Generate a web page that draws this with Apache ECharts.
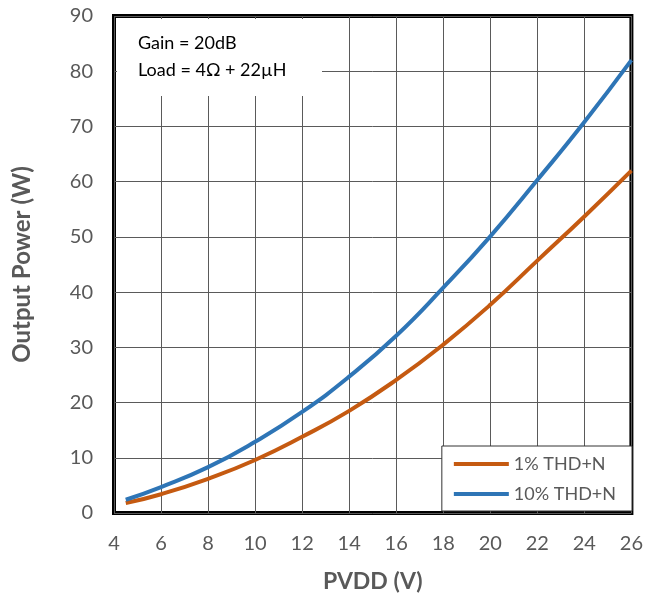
<!DOCTYPE html>
<html>
<head>
<meta charset="utf-8">
<script src="https://cdn.jsdelivr.net/npm/echarts@6/dist/echarts.min.js"></script>
<style>
    html, body { margin: 0; padding: 0; background: #fff; }
    #chart { width: 646px; height: 599px; }
</style>
</head>
<body>
<div id="chart"></div>
<script>
// supply voltage (V)
var pvdd = [4.5, 6, 8, 10, 12, 14, 16, 18, 20, 22, 24, 26];
// output power (W) at each distortion level
var thd1 = [1.8, 3.4, 6.2, 9.6, 13.8, 18.5, 24.1, 30.5, 37.7, 45.7, 53.7, 62];
var thd10 = [2.4, 4.7, 8.3, 12.9, 18.3, 24.7, 32.1, 40.8, 50.1, 60.3, 70.8, 82];
var seriesNames = ["1% THD+N", "10% THD+N"];
var noteLines = ["Gain = 20dB", "Load = 4Ω + 22µH"];

function pairs(xs, ys) {
    return xs.map(function (x, i) { return [x, ys[i]]; });
}

var font = "Lato, 'Open Sans', sans-serif";
var myChart = echarts.init(document.getElementById("chart"));

var option = {
    animation: false,
    textStyle: { fontFamily: font },
    grid: {
        left: 114,
        top: 16,
        right: 13,
        bottom: 86,
        show: true,
        borderColor: "#000",
        borderWidth: 4,
        backgroundColor: "#fff"
    },
    xAxis: {
        type: "value",
        min: 4,
        max: 26,
        interval: 2,
        name: "PVDD (V)",
        nameLocation: "middle",
        nameGap: 57,
        nameTextStyle: { fontSize: 23, fontWeight: "bold", color: "#595959", fontFamily: font },
        axisLine: { show: false },
        axisTick: { show: false },
        axisLabel: { fontSize: 20, color: "#595959", margin: 21, fontFamily: font },
        splitLine: { show: true, lineStyle: { color: "#5a5a5a", width: 1 } }
    },
    yAxis: {
        type: "value",
        min: 0,
        max: 90,
        interval: 10,
        name: "Output Power (W)",
        nameLocation: "middle",
        nameGap: 80,
        nameTextStyle: { fontSize: 24, fontWeight: "bold", color: "#595959", fontFamily: font },
        axisLine: { show: false },
        axisTick: { show: false },
        axisLabel: { fontSize: 20, color: "#595959", margin: 21, fontFamily: font },
        splitLine: { show: true, lineStyle: { color: "#5a5a5a", width: 1 } }
    },
    legend: {
        orient: "vertical",
        right: 14,
        bottom: 88,
        backgroundColor: "#fff",
        borderColor: "#333",
        borderWidth: 1,
        padding: [9, 16, 8, 12],
        itemGap: 12,
        itemWidth: 55,
        itemHeight: 4,
        icon: "rect",
        textStyle: { fontSize: 18, color: "#595959", fontFamily: font },
        data: seriesNames
    },
    graphic: [
        {
            type: "rect",
            z: 1,
            shape: { x: 117, y: 19, width: 205, height: 77 },
            style: { fill: "#fff" }
        },
        {
            type: "text",
            z: 2,
            left: 138,
            top: 34,
            style: { text: noteLines[0], fontSize: 18, fill: "#000", fontFamily: font }
        },
        {
            type: "text",
            z: 2,
            left: 138,
            top: 61,
            style: { text: noteLines[1], fontSize: 18, fill: "#000", fontFamily: font }
        }
    ],
    series: [
        {
            name: seriesNames[0],
            type: "line",
            smooth: true,
            showSymbol: false,
            color: "#C55A11",
            lineStyle: { width: 4, color: "#C55A11" },
            data: pairs(pvdd, thd1)
        },
        {
            name: seriesNames[1],
            type: "line",
            smooth: true,
            showSymbol: false,
            color: "#2E75B6",
            lineStyle: { width: 4, color: "#2E75B6" },
            data: pairs(pvdd, thd10)
        }
    ]
};
myChart.setOption(option);
</script>
</body>
</html>
